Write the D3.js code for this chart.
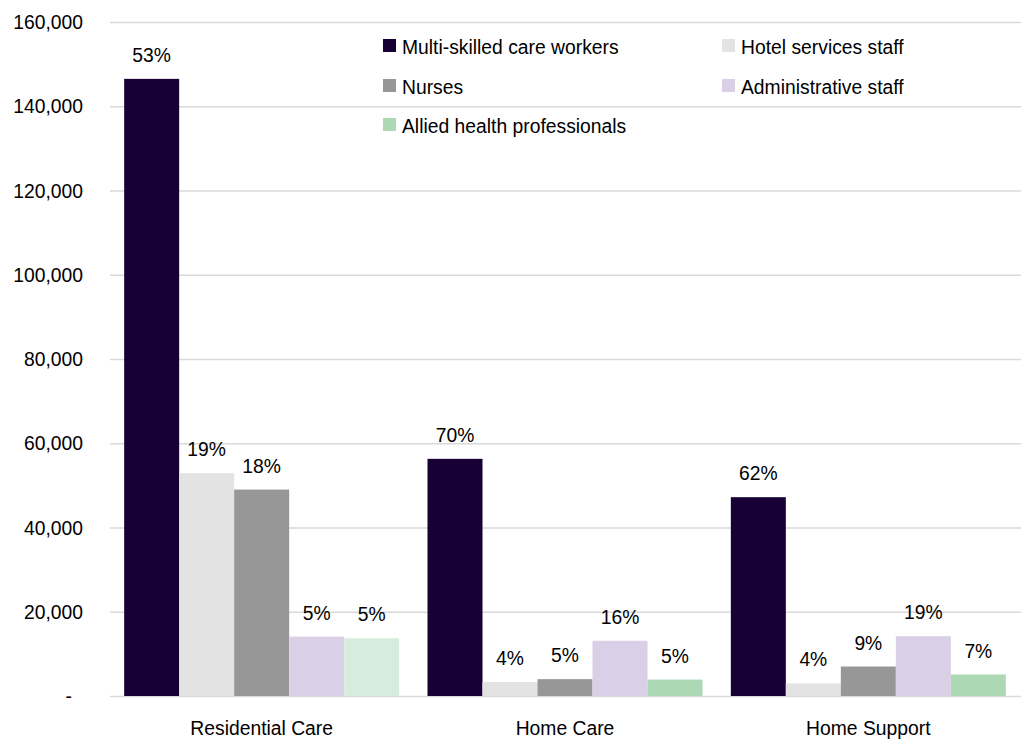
<!DOCTYPE html>
<html>
<head>
<meta charset="utf-8">
<script src="https://cdn.jsdelivr.net/npm/d3@7"></script>
<style>
  html, body { margin: 0; padding: 0; background: #ffffff; }
  svg { display: block; }
  text { font-family: "Liberation Sans", Arial, sans-serif; fill: #000000; }
</style>
</head>
<body>
<svg id="chart" width="1021" height="740"></svg>
<script>
// Aged care workforce by setting and occupation (headcount)
const settings = ["Residential Care", "Home Care", "Home Support"];
const occupations = [
  "Multi-skilled care workers",
  "Hotel services staff",
  "Nurses",
  "Administrative staff",
  "Allied health professionals"
];
const multiSkilled = [146500, 56300, 47200];
const hotelServices = [52900, 3300, 3000];
const nurses = [49000, 4000, 7000];
const administrative = [14100, 13100, 14200];
const alliedHealth = [13700, 3900, 5100];
const yTicks = [0, 20000, 40000, 60000, 80000, 100000, 120000, 140000, 160000];

const seriesValues = [multiSkilled, hotelServices, nurses, administrative, alliedHealth];
const colors = ["#170033", "#e3e3e3", "#979797", "#d9cfe7", "#acd8b4"];
// the residential allied-health bar is shaded lighter than its series
const barOverride = { "Residential Care|Allied health professionals": "#d6ecdc" };

const FONT = 21, SQX = 0.92;   // condensed text: horizontal squeeze
const svg = d3.select("#chart");
const plotLeft = 110, plotRight = 1020, plotTop = 22, plotBottom = 696;

const x0 = d3.scaleBand().domain(settings).range([plotLeft, plotRight])
  .paddingInner(0.0934).paddingOuter(0.0467);
const x1 = d3.scaleBand().domain(occupations).range([0, x0.bandwidth()]).padding(0);
const y = d3.scaleLinear().domain([0, 160000]).range([plotBottom, plotTop]);

// y axis with gridlines
const yAxis = d3.axisLeft(y).tickValues(yTicks).tickSize(-(plotRight - plotLeft + 1)).tickPadding(27)
  .tickFormat(d => d === 0 ? "-" : d3.format(",")(d));
const gy = svg.append("g").attr("transform", `translate(${plotLeft},0)`).call(yAxis);
gy.select(".domain").remove();
gy.selectAll(".tick line").attr("stroke", "#d9d9d9").attr("stroke-width", 1.5);
gy.selectAll(".tick text")
  .attr("font-size", FONT)
  .attr("font-family", "Liberation Sans, Arial, sans-serif")
  .attr("fill", "#000")
  .attr("x", d => (d === 0 ? -38 : -27) / SQX)
  .attr("transform", `scale(${SQX},1)`);

// data rows
const rows = settings.map((s, i) => {
  const vals = occupations.map((o, k) => ({ setting: s, occupation: o, k, value: seriesValues[k][i] }));
  const total = d3.sum(vals, d => d.value);
  vals.forEach(d => d.share = d.value / total);
  return { setting: s, vals };
});

const groups = svg.append("g").selectAll("g").data(rows).join("g")
  .attr("transform", d => `translate(${x0(d.setting)},0)`);

groups.selectAll("rect").data(d => d.vals).join("rect")
  .attr("x", d => x1(d.occupation))
  .attr("width", x1.bandwidth())
  .attr("y", d => y(d.value))
  .attr("height", d => y(0) - y(d.value))
  .attr("fill", d => barOverride[d.setting + "|" + d.occupation] || colors[d.k]);

groups.selectAll("text.pct").data(d => d.vals).join("text")
  .attr("class", "pct")
  .attr("font-size", FONT)
  .attr("text-anchor", "middle")
  .attr("transform", d => `translate(${x1(d.occupation) + x1.bandwidth() / 2},${y(d.value) - 17}) scale(${SQX},1)`)
  .text(d => Math.round(d.share * 100) + "%");

// category labels
svg.append("g").selectAll("text").data(settings).join("text")
  .attr("font-size", FONT)
  .attr("text-anchor", "middle")
  .attr("transform", d => `translate(${x0(d) + x0.bandwidth() / 2},735) scale(${SQX},1)`)
  .text(d => d);

// legend
const legendPos = [[383, 46], [722, 46], [383, 86], [722, 86], [383, 125]];
const legend = svg.append("g").selectAll("g").data(occupations).join("g")
  .attr("transform", (d, i) => `translate(${legendPos[i][0]},${legendPos[i][1]})`);
legend.append("rect").attr("x", 0).attr("y", -7).attr("width", 13).attr("height", 13)
  .attr("fill", (d, i) => colors[i]);
legend.append("text").attr("font-size", FONT)
  .attr("transform", `translate(19,7.5) scale(${SQX},1)`)
  .text(d => d);
</script>
</body>
</html>
